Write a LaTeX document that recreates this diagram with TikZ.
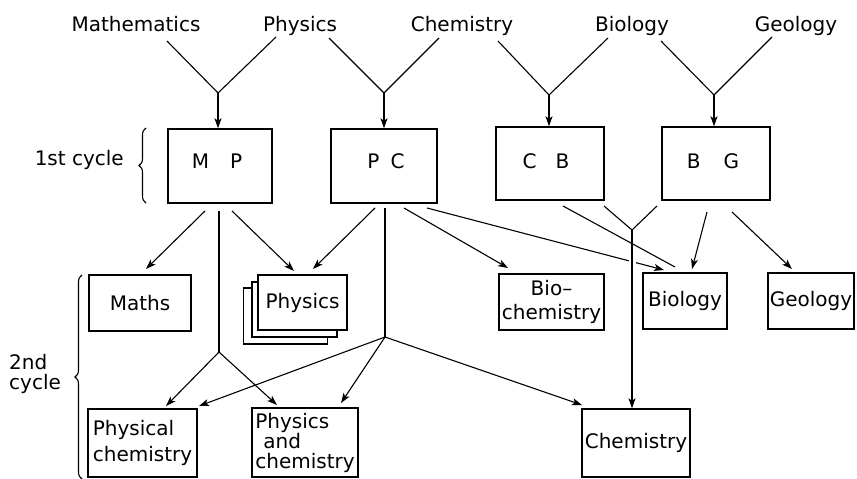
\documentclass[tikz,border=0pt]{standalone}
\usepackage{fontspec}
\setmainfont{DejaVu Sans}
\usetikzlibrary{arrows.meta,decorations.pathreplacing,calc}
\newcommand\dfont{\fontsize{20}{21}\selectfont}
\begin{document}
\begin{tikzpicture}[x=1pt,y=-1pt,
  box/.style={draw, line width=1.4pt, inner sep=1pt, fill=white, font=\dfont},
  lbl/.style={font=\dfont, inner sep=0pt},
  arr/.style={-{Stealth[length=10pt,width=7pt,inset=2.5pt]}, line width=1.1pt},
  ln/.style={line width=1.1pt},
  brc/.style={decorate, decoration={brace, amplitude=7pt}, line width=1.1pt}]
\useasboundingbox (0,0) rectangle (857,479);
% top labels
\node[lbl, anchor=base] (tMa) at (136,31) {Mathematics};
\node[lbl, anchor=base] (tPh) at (300,31) {Physics};
\node[lbl, anchor=base] (tCh) at (462,31) {Chemistry};
\node[lbl, anchor=base] (tBi) at (632,31) {Biology};
\node[lbl, anchor=base] (tGe) at (796,31) {Geology};
% first cycle boxes
\node[box, minimum width=104pt, minimum height=74pt] (MP) at (220,166) {};
\node[box, minimum width=106pt, minimum height=74pt] (PC) at (384,166) {};
\node[box, minimum width=108pt, minimum height=73pt] (CB) at (550,163.5) {};
\node[box, minimum width=108pt, minimum height=73pt] (BG) at (716,163.5) {};
\node[lbl] (MPt) at (217,161) {M\hspace{21pt}P};
\node[lbl] (PCt) at (386,161) {P\hspace{11pt}C};
\node[lbl] (CBt) at (546,161) {C\hspace{19pt}B};
\node[lbl] (BGt) at (713,161) {B\hspace{23pt}G};
% second cycle boxes
\node[box, minimum width=102pt, minimum height=56pt] (Ma) at (140,303) {Maths};
\node[box, minimum width=84pt, minimum height=56pt] (Ph3) at (285.5,316) {};
\node[box, minimum width=85pt, minimum height=55pt] (Ph2) at (294.5,309.5) {};
\node[box, minimum width=89pt, minimum height=55pt] (Ph) at (302.5,302.5) {Physics};
\node[box, minimum width=105pt, minimum height=56pt, align=center] (Bc) at (551.5,302) {Bio--\\[3pt]chemistry};
\node[box, minimum width=84pt, minimum height=56pt] (Bi) at (685,301) {Biology};
\node[box, minimum width=86pt, minimum height=56pt] (Ge) at (811,301) {Geology};
\node[box, minimum width=109pt, minimum height=68pt, align=left] (PCh) at (142.5,443) {Physical\\[5pt]chemistry};
\node[box, minimum width=106pt, minimum height=69pt, align=left, font={\fontsize{20}{20}\selectfont}] (PaC) at (305,442.5) {Physics\\\hspace*{8pt}and\\chemistry};
\node[box, minimum width=108pt, minimum height=68pt] (Chm) at (636,443) {Chemistry};
% cycle labels
\node[lbl, anchor=base east] (c1) at (124,165) {1st cycle};
\draw[brc] (146,203) -- (146,128);
\node[lbl, anchor=west, align=left, font={\fontsize{20}{20}\selectfont}] (c2) at (9,374) {2nd\\cycle};
\draw[brc] (82,479) -- (82,275);
% top V connectors
\coordinate (a1) at (167,41); \coordinate (b1) at (276,37); \coordinate (v1) at (218,93);
\coordinate (a2) at (329,38); \coordinate (b2) at (439,38); \coordinate (v2) at (384,93);
\coordinate (a3) at (498,41); \coordinate (b3) at (608,38); \coordinate (v3) at (549,95);
\coordinate (a4) at (661,41); \coordinate (b4) at (772,37); \coordinate (v4) at (714,95);
\draw[ln] (a1) -- (v1) -- (b1);
\draw[ln] (a2) -- (v2) -- (b2);
\draw[ln] (a3) -- (v3) -- (b3);
\draw[ln] (a4) -- (v4) -- (b4);
\draw[arr] (v1) -- (v1 |- MP.north);
\draw[arr] (v2) -- (v2 |- PC.north);
\draw[arr] (v3) -- (v3 |- CB.north);
\draw[arr] (v4) -- (v4 |- BG.north);
% from MP
\coordinate (m1) at (205,211); \coordinate (m2) at (219,211); \coordinate (m3) at (232,211);
\coordinate (j1) at (219,352);
\draw[arr] (m1) -- (146,269);
\draw[ln] (m2) -- (j1);
\draw[arr] (m3) -- (294,271);
\draw[arr] (j1) -- (166,406);
\draw[arr] (j1) -- (277,405);
% from PC
\coordinate (p1) at (375,208); \coordinate (p2) at (385,208); \coordinate (p3) at (404,208); \coordinate (p4) at (427,208);
\coordinate (j2) at (385,337);
\draw[arr] (p1) -- (313,269);
\draw[ln] (p2) -- (j2);
\draw[arr] (j2) -- (199,406);
\draw[arr] (j2) -- (341,403);
\draw[arr] (j2) -- (582,405);
\draw[arr] (p3) -- (508,268);
\draw[arr] (p4) -- (664,270);
% gap where the line passes the vertical
\coordinate (g1) at (632,255); \coordinate (g2) at (632,270);
\draw[white, line width=7pt] (g1) -- (g2);
% from CB and BG
\coordinate (q1) at (604,206); \coordinate (q2) at (657,206); \coordinate (j3) at (632,230);
\draw[ln] (q1) -- (j3) -- (q2);
\draw[arr] (j3) -- (j3 |- Chm.north);
\coordinate (q0) at (563,206);
\draw[ln] (q0) -- (675,267);
\coordinate (r1) at (707,212); \coordinate (r2) at (732,212);
\draw[arr] (r1) -- (692,269);
\draw[arr] (r2) -- (792,269);
\end{tikzpicture}
\end{document}
